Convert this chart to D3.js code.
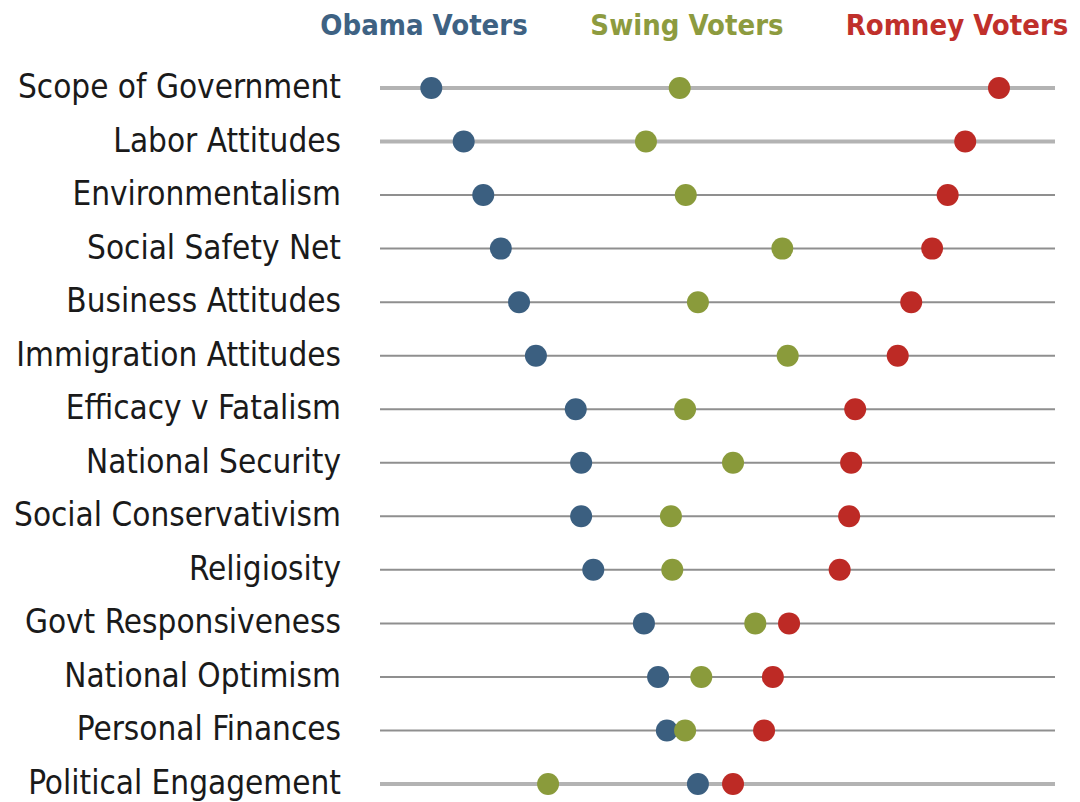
<!DOCTYPE html>
<meta charset="utf-8">
<head>
  <style>
    body { margin: 0; background: #fff; }
    .row-label {
      font-family: "DejaVu Sans Condensed", "Liberation Sans Narrow", Arial;
      font-size: 33px;
      fill: #1a1a1a;
    }
    .legend-label {
      font-family: "DejaVu Sans Condensed", "Liberation Sans Narrow", Arial;
      font-weight: bold;
      font-size: 29px;
    }
  </style>
</head>
<script src="https://d3js.org/d3.v7.min.js"></script>

<div id="my_dataviz"></div>
<script>
const WIDTH = 1080;
const HEIGHT = 802;

// categories, top to bottom
const topics = ["Scope of Government", "Labor Attitudes", "Environmentalism", "Social Safety Net",
  "Business Attitudes", "Immigration Attitudes", "Efficacy v Fatalism", "National Security",
  "Social Conservativism", "Religiosity", "Govt Responsiveness", "National Optimism",
  "Personal Finances", "Political Engagement"];

// position of each group on a 0-100 scale
const obama  = [7.6, 12.4, 15.3, 17.9, 20.6, 23.1, 29.0, 29.8, 29.8, 31.6, 39.1, 41.2, 42.5, 47.1];
const swing  = [44.4, 39.4, 45.3, 59.6, 47.1, 60.4, 45.2, 52.3, 43.1, 43.3, 55.6, 47.6, 45.2, 24.9];
const romney = [91.7, 86.7, 84.1, 81.8, 78.7, 76.7, 70.4, 69.8, 69.5, 68.1, 60.6, 58.2, 56.9, 52.3];

const groups = ["Obama Voters", "Swing Voters", "Romney Voters"];
const colors = ["#3b5f80", "#8a9b3b", "#bd2a25"];
const legendColors = ["#3e6283", "#8d9b3f", "#c0302b"];

var svg = d3.select("#my_dataviz")
  .append("svg")
  .attr("width", WIDTH)
  .attr("height", HEIGHT);

var x = d3.scaleLinear().domain([0, 100]).range([380, 1055]);
var y = d3.scalePoint().domain(topics).range([88, 784]);

// the rows: thick light lines for some, thinner darker ones for the rest
var thick = new Set(["Scope of Government", "Labor Attitudes", "Political Engagement"]);
svg.selectAll(".row-line")
  .data(topics)
  .enter()
  .append("line")
  .attr("x1", x(0))
  .attr("x2", x(100))
  .attr("y1", d => y(d))
  .attr("y2", d => y(d))
  .attr("stroke", d => thick.has(d) ? "#b3b3b3" : "#8f8f8f")
  .attr("stroke-width", d => thick.has(d) ? 4 : 2);

svg.selectAll(".row-label")
  .data(topics)
  .enter()
  .append("text")
  .attr("class", "row-label")
  .attr("x", 341)
  .attr("y", d => y(d) + 10)
  .attr("text-anchor", "end")
  .text(d => d);

// dots, obama first, then swing, then romney on top
var series = [obama, swing, romney];
series.forEach((vals, gi) => {
  svg.selectAll(".dot-" + gi)
    .data(vals)
    .enter()
    .append("circle")
    .attr("cx", d => x(d))
    .attr("cy", (d, i) => y(topics[i]))
    .attr("r", 11)
    .attr("fill", colors[gi]);
});

// legend across the top
var legendX = [424, 687, 957];
svg.selectAll(".legend-label")
  .data(groups)
  .enter()
  .append("text")
  .attr("class", "legend-label")
  .attr("x", (d, i) => legendX[i])
  .attr("y", 35)
  .attr("text-anchor", "middle")
  .attr("fill", (d, i) => legendColors[i])
  .text(d => d);
</script>
